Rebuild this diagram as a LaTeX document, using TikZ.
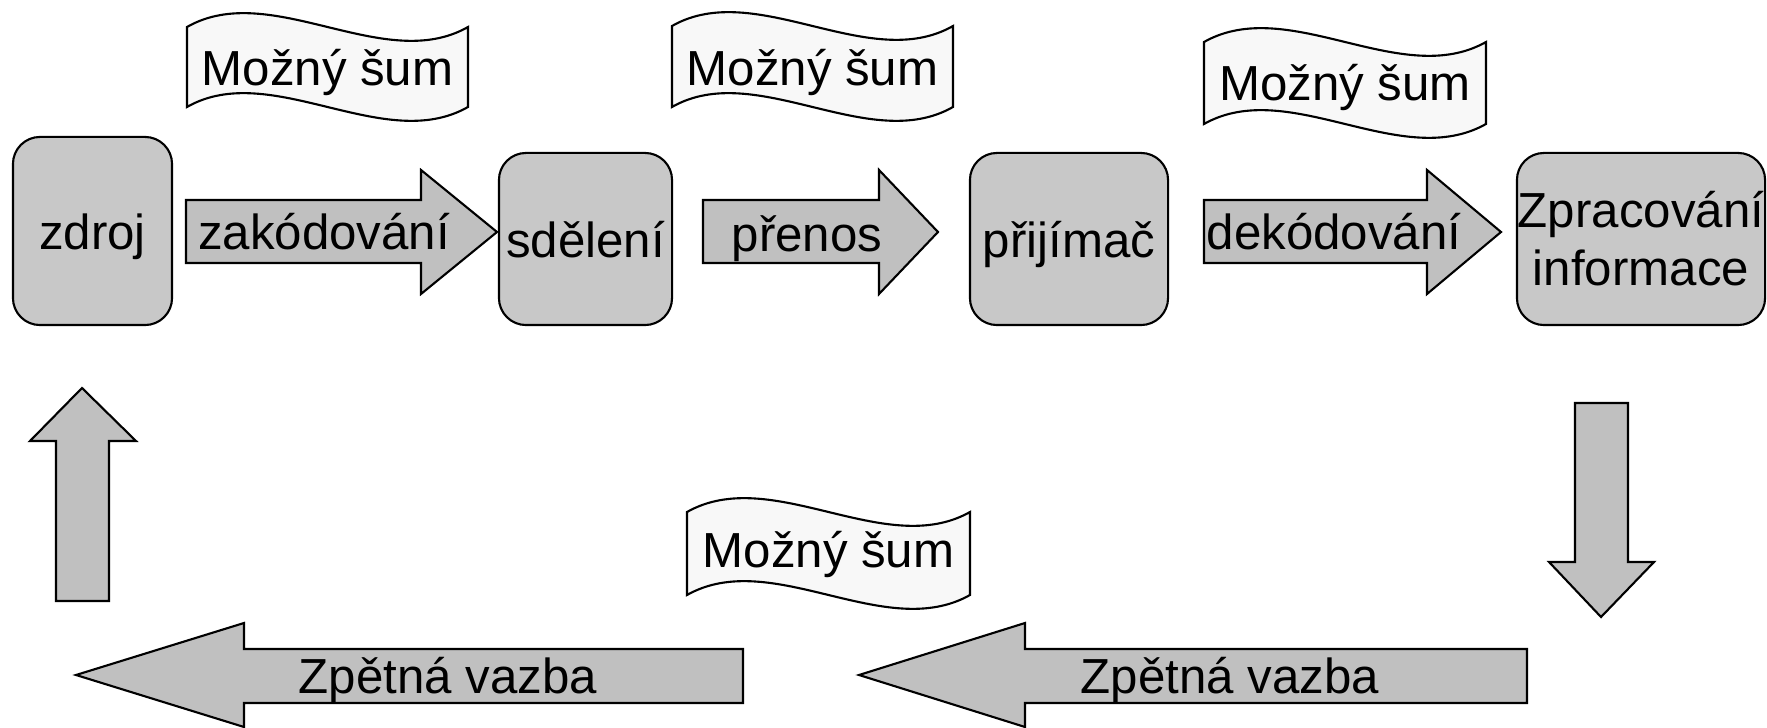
\documentclass[tikz,border=0pt]{standalone}
\usepackage{fontspec}
\setmainfont{Liberation Sans}
\definecolor{boxgray}{RGB}{200,200,200}
\definecolor{arrowgray}{RGB}{192,192,192}
\definecolor{noisewhite}{RGB}{248,248,248}
\begin{document}
\begin{tikzpicture}[x=0.01cm,y=-0.01cm,font=\fontsize{14}{16.5}\selectfont,
	station/.style={draw,line width=0.6pt,fill=boxgray,rounded corners=0.27cm,inner sep=0pt},
	oneline/.style={text height=0.37cm,text depth=0pt},
	bigarrow/.style={draw,line width=0.6pt,fill=arrowgray,line join=miter},
	noise/.style={draw,line width=0.6pt,fill=noisewhite},
	txt/.style={anchor=base,inner sep=0pt}]
	\useasboundingbox (0,0) rectangle (1767,728);
	% noise
	\draw[noise] (187,27) .. controls (271,-21) and (384,75) .. (468,27) -- (468,107) .. controls (384,155) and (271,59) .. (187,107) -- cycle;
	\draw[noise] (672,26) .. controls (756,-22) and (869,74) .. (953,26) -- (953,107) .. controls (869,155) and (756,59) .. (672,107) -- cycle;
	\draw[noise] (1204,42) .. controls (1289,-6) and (1401,90) .. (1486,42) -- (1486,124) .. controls (1401,172) and (1289,76) .. (1204,124) -- cycle;
	\draw[noise] (687,512) .. controls (772,464) and (885,560) .. (970,512) -- (970,595) .. controls (885,643) and (772,547) .. (687,595) -- cycle;
	\node[txt] (sum1) at (327.5,86) {Možný šum};
	\node[txt] (sum2) at (812.5,86) {Možný šum};
	\node[txt] (sum3) at (1345,101) {Možný šum};
	\node[txt] (sum4) at (828.5,568) {Možný šum};
	% arrows
	\draw[bigarrow] (186,200) -- (421,200) -- (421,170) -- (497,232) -- (421,294) -- (421,263) -- (186,263) -- cycle;
	\draw[bigarrow] (703,200) -- (879,200) -- (879,170) -- (938,232) -- (879,294) -- (879,263) -- (703,263) -- cycle;
	\draw[bigarrow] (1204,200) -- (1427,200) -- (1427,170) -- (1501,232) -- (1427,294) -- (1427,263) -- (1204,263) -- cycle;
	\draw[bigarrow] (1575,403) -- (1628,403) -- (1628,562) -- (1654,562) -- (1601,617) -- (1549,562) -- (1575,562) -- cycle;
	\draw[bigarrow] (743,649) -- (244,649) -- (244,623) -- (76,675) -- (244,727) -- (244,703) -- (743,703) -- cycle;
	\draw[bigarrow] (1527,649) -- (1025,649) -- (1025,623) -- (859,675) -- (1025,727) -- (1025,703) -- (1527,703) -- cycle;
	\draw[bigarrow] (56,601) -- (56,441) -- (30,441) -- (82,388) -- (136,441) -- (109,441) -- (109,601) -- cycle;
	\node[txt] (zakodovani) at (324,250) {zakódování};
	\node[txt] (prenos) at (807,252) {přenos};
	\node[txt] (dekodovani) at (1334,250) {dekódování};
	\node[txt] (vazba1) at (448,693) {Zpětná vazba};
	\node[txt] (vazba2) at (1230,693) {Zpětná vazba};
	% stations
	\node[station,oneline,minimum width=1.59cm,minimum height=1.88cm] (zdroj) at (92.5,231) {zdroj};
	\node[station,oneline,minimum width=1.73cm,minimum height=1.72cm] (sdeleni) at (585.5,239) {sdělení};
	\node[station,oneline,minimum width=1.98cm,minimum height=1.72cm] (prijimac) at (1069,239) {přijímač};
	\node[station,align=center,minimum width=2.48cm,minimum height=1.72cm] (zpracovani) at (1641,239) {Zpracování\\informace};
\end{tikzpicture}
\end{document}
